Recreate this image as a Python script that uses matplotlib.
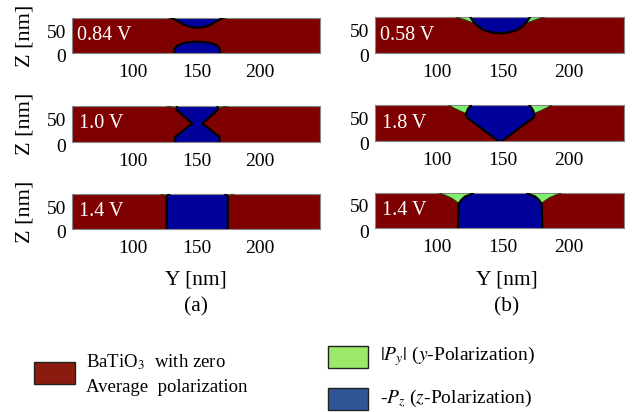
import matplotlib
matplotlib.use("Agg")
import matplotlib.pyplot as plt
from matplotlib.patches import Rectangle
from matplotlib.transforms import ScaledTranslation

plt.rcParams["font.family"] = ["Liberation Serif", "DejaVu Serif"]
plt.rcParams["mathtext.fontset"] = "stix"

RED = "#7f0000"
GREEN = "#80f070"
BLUE = "#00009a"

# voltage labels of the six snapshots
volt_a = ["0.84 V", "1.0 V", "1.4 V"]
volt_b = ["0.58 V", "1.8 V", "1.4 V"]

# domain outlines: z [nm] and half width [nm] about the domain centre
# (a) 0.84 V : cap from the top and a foot from the bottom
a1_cap_z = [70, 64, 58, 54, 51.5, 50.5]
a1_cap_w = [20, 15.5, 11.5, 8, 4.5, 0]
a1_foot_z = [0, 10, 15, 19, 21.5, 22.5]
a1_foot_w = [18, 17.5, 15.5, 12, 7, 0]
a1_green_z = [70, 67]
a1_green_w = [23, 18]
# (a) 1.0 V : hourglass
a2_blue_z = [70, 62, 36, 10, 0]
a2_blue_w = [16, 16, 4, 17.5, 17.5]
a2_green_z = [70, 66]
a2_green_w = [24, 16]
# (a) 1.4 V : straight column
a3_blue_z = [70, 66, 0]
a3_blue_w = [22, 24, 24]
a3_green_z = [70, 66]
a3_green_w = [29, 23]
# (b) 0.58 V : cap from the top
b1_blue_z = [70, 67, 60, 54, 45, 41, 39, 38.5]
b1_blue_w = [22.5, 22, 20, 18, 13, 8, 4, 0]
b1_green_z = [70, 64, 57]
b1_green_w = [33.5, 26, 19]
# (b) 1.8 V : wedge
b2_blue_z = [70, 62, 52, 46, 0]
b2_blue_w = [22, 24.5, 26, 25.5, 1.5]
b2_green_z = [70, 64, 58, 53]
b2_green_w = [39, 35, 30, 25.5]
# (b) 1.4 V : wide column with rounded top
b3_blue_z = [70, 68, 63, 56, 48, 0]
b3_blue_w = [20.5, 21.5, 26.5, 29.5, 31.5, 32]
b3_green_z = [70, 66, 60, 50]
b3_green_w = [46.5, 42, 37, 31.5]

centre_a = 150.5
centre_b = 148

panels = [
    # rect (px), xlim, label, centre, blue shapes, green shapes
    ((72, 18, 248, 35), (52, 247), volt_a[0], centre_a,
     [(a1_cap_z, a1_cap_w), (a1_foot_z, a1_foot_w)], [(a1_green_z, a1_green_w)]),
    ((72, 106, 248, 36), (52, 247), volt_a[1], centre_a,
     [(a2_blue_z, a2_blue_w)], [(a2_green_z, a2_green_w)]),
    ((72, 194, 248, 35), (52, 247), volt_a[2], centre_a,
     [(a3_blue_z, a3_blue_w)], [(a3_green_z, a3_green_w)]),
    ((375, 17, 249, 36), (53, 242), volt_b[0], centre_b,
     [(b1_blue_z, b1_blue_w)], [(b1_green_z, b1_green_w)]),
    ((375, 105, 249, 36), (53, 242), volt_b[1], centre_b,
     [(b2_blue_z, b2_blue_w)], [(b2_green_z, b2_green_w)]),
    ((375, 193, 249, 35), (53, 242), volt_b[2], centre_b,
     [(b3_blue_z, b3_blue_w)], [(b3_green_z, b3_green_w)]),
]

W, H = 632, 412
fig = plt.figure(figsize=(W / 100, H / 100), dpi=100)
shift_down = ScaledTranslation(0, -3 / 100, fig.dpi_scale_trans)


def draw_shape(ax, c, z, w, color, edge, lw):
    left = [c - v for v in w]
    right = [c + v for v in w]
    ax.fill(left + right[::-1], z + z[::-1], color=color, lw=0, zorder=2)
    ax.plot(left, z, color=edge, lw=lw, zorder=3, solid_joinstyle="round")
    ax.plot(right, z, color=edge, lw=lw, zorder=3, solid_joinstyle="round")


for (x0, y0, w, h), xlim, label, c, blues, greens in panels:
    ax = fig.add_axes([x0 / W, 1 - (y0 + h) / H, w / W, h / H])
    ax.set_facecolor(RED)
    for z, hw in greens:
        draw_shape(ax, c, z, hw, GREEN, "#2a3a10", 0.7)
    for z, hw in blues:
        draw_shape(ax, c, z, hw, BLUE, "black", 1.6)
    ax.set_xlim(*xlim)
    ax.set_ylim(0, 70)
    ax.set_xticks([100, 150, 200])
    ax.set_yticks([0, 50])
    ax.tick_params(length=0, labelsize=14, pad=8)
    ax.tick_params(axis="y", pad=4)
    for t in ax.get_yticklabels():
        t.set_transform(t.get_transform() + shift_down)
    for s in ax.spines.values():
        s.set_color("#888888")
        s.set_linewidth(0.8)
    ax.text(0.02 if len(label) > 5 else 0.03, 0.5, label, transform=ax.transAxes,
            color="white", fontsize=14.5, va="center", ha="left")
    if x0 < 300:
        fig.text(25 / W, 1 - (y0 + h / 2) / H, "Z [nm]", rotation=90,
                 fontsize=16, ha="center", va="center")

for xc, sub in [(196, "(a)"), (507, "(b)")]:
    fig.text(xc / W, 1 - 280 / H, "Y [nm]", fontsize=15.5, ha="center", va="center")
    fig.text(xc / W, 1 - 307 / H, sub, fontsize=15.5, ha="center", va="center")

# legend boxes
def box(x, y, w, h, color):
    fig.add_artist(Rectangle((x / W, 1 - (y + h) / H), w / W, h / H,
                             transform=fig.transFigure, facecolor=color,
                             edgecolor="#222222", lw=1.0))

box(34, 362, 41, 22, "#8b1a0f")
box(328, 346, 40, 22, "#9be86a")
box(328, 388, 40, 22, "#2f5597")
fig.text(86 / W, 1 - 362 / H, r"BaTiO$_3$  with zero", fontsize=13.5, va="center")
fig.text(86 / W, 1 - 387 / H, "Average  polarization", fontsize=13.5, va="center")
fig.text(380 / W, 1 - 356 / H, r"$|P_y|$ ($y$-Polarization)", fontsize=14, va="center")
fig.text(380 / W, 1 - 398 / H, r"-$P_z$ ($z$-Polarization)", fontsize=14, va="center")

fig.savefig("out.png", dpi=100)
